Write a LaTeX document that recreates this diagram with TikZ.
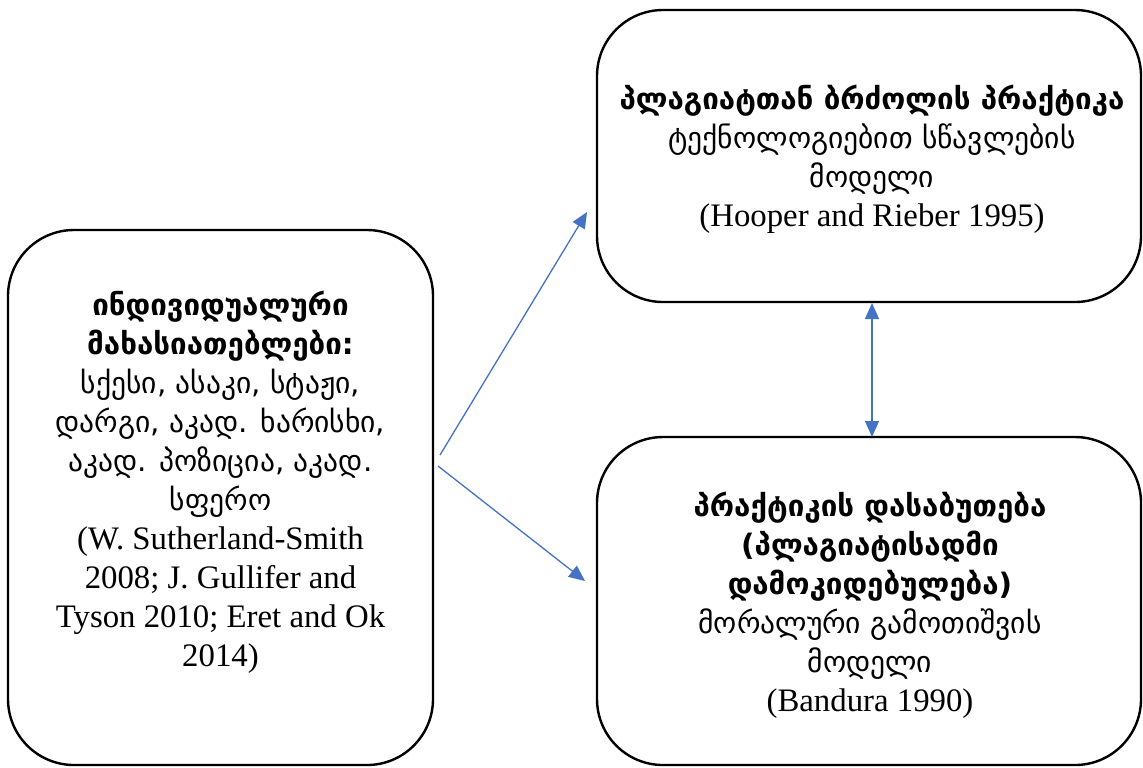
\documentclass[tikz,border=0pt]{standalone}
\usepackage{fontspec}
\setmainfont{Liberation Serif}
\newfontfamily\geo{DejaVu Sans}[Scale=0.9]
\usetikzlibrary{arrows.meta}
\definecolor{arrblue}{HTML}{4472C4}
\begin{document}
\begin{tikzpicture}[x=0.5pt,y=-0.5pt,
  box/.style={draw, line width=1.2pt, rounded corners=33pt, inner sep=0pt, outer sep=0pt},
  txt/.style={align=center, inner sep=0pt, font=\fontsize{16.4}{19.5}\selectfont},
  tip/.tip={Triangle[length=8pt,width=7pt]},
  conn/.style={draw=arrblue, line width=0.65pt, -tip},
  conn2/.style={draw=arrblue, line width=0.65pt, tip-tip}]
\useasboundingbox (0,0) rectangle (1143,767);
% boxes
\node[box, minimum width=212.5pt, minimum height=267.5pt] (L) at (220.5,497.5) {};
\node[box, minimum width=272pt, minimum height=146pt] (T) at (869,156) {};
\node[box, minimum width=272pt, minimum height=164pt] (B) at (869,601) {};
% texts
\node[txt] (Lt) at (220.5,482) {{\geo\bfseries ინდივიდუალური}\\{\geo\bfseries მახასიათებლები:}\\{\geo სქესი, ასაკი, სტაჟი,}\\{\geo დარგი, აკად. ხარისხი,}\\{\geo აკად. პოზიცია, აკად.}\\{\geo სფერო}\\(W. Sutherland-Smith\\2008; J. Gullifer and\\Tyson 2010; Eret and Ok\\2014)};
\node[txt] (Tt) at (872,159) {{\geo\bfseries პლაგიატთან ბრძოლის პრაქტიკა}\\{\geo ტექნოლოგიებით სწავლების}\\{\geo მოდელი}\\(Hooper and Rieber 1995)};
\node[txt] (Bt) at (870,605) {{\geo\bfseries პრაქტიკის დასაბუთება}\\{\geo\bfseries (პლაგიატისადმი}\\{\geo\bfseries დამოკიდებულება)}\\{\geo მორალური გამოთიშვის}\\{\geo მოდელი}\\(Bandura 1990)};
% connector end points
\coordinate (s1) at (440,455);
\coordinate (e1) at (587,212);
\coordinate (s2) at (438,466);
\coordinate (e2) at (585,581);
\coordinate (v1) at (872,303);
\coordinate (v2) at (872,437);
\draw[conn] (s1) -- (e1);
\draw[conn] (s2) -- (e2);
\draw[conn2] (v1) -- (v2);
\end{tikzpicture}
\end{document}
